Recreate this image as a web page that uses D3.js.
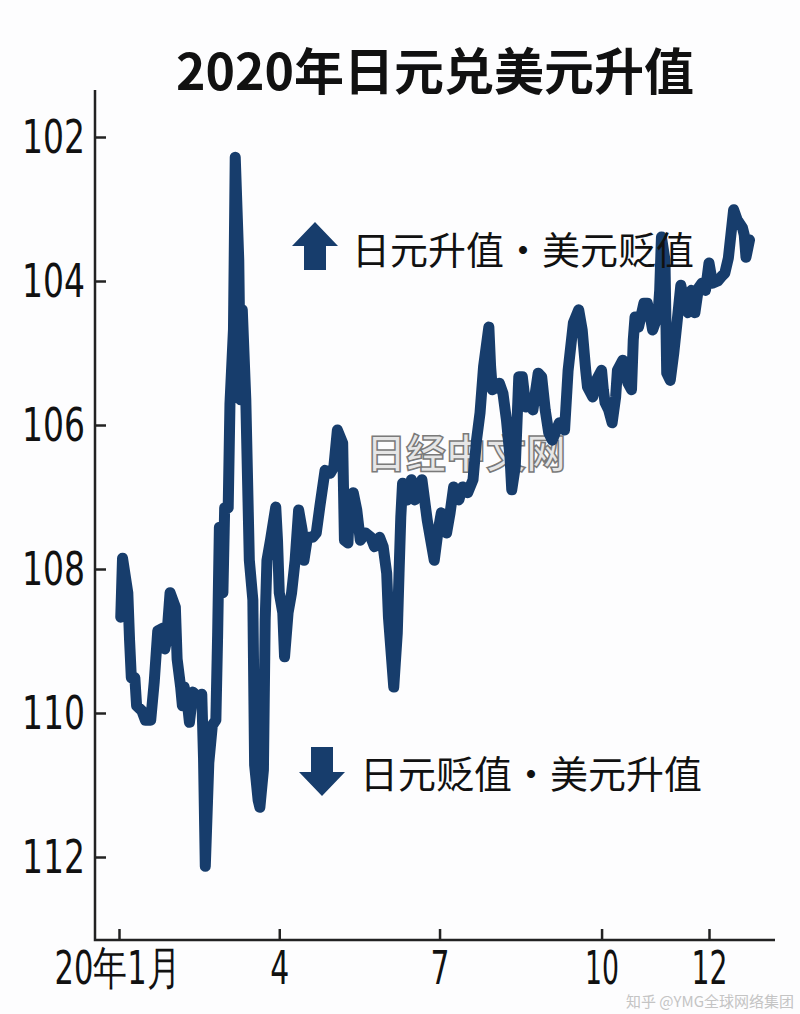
<!DOCTYPE html>
<html lang="zh">
<head>
<meta charset="utf-8">
<script src="https://cdn.jsdelivr.net/npm/d3@7/dist/d3.min.js"></script>
<style>
  body { margin: 0; background: #fdfdfe; }
  text { font-family: "Noto Sans CJK SC", "Noto Sans", sans-serif; }
  .num { font-family: "Liberation Sans Narrow", "DejaVu Sans Condensed", "Noto Sans", sans-serif; }
</style>
</head>
<body>
<div id="chart"></div>
<script>
// USD/JPY 2020
var dates = [
  "01-02","01-03","01-06","01-07","01-08","01-10","01-11","01-14","01-16","01-19",
  "01-21","01-23","01-26","01-27","01-28","01-30","02-02","02-03","02-05","02-06",
  "02-07","02-09","02-10","02-12","02-15","02-17","02-18","02-19","02-21","02-23",
  "02-25","02-26","02-27","02-29","03-01","03-03","03-04","03-06","03-07","03-09",
  "03-10","03-11","03-13","03-15","03-17","03-18","03-20","03-21","03-23","03-24",
  "03-25","03-27","03-30","03-31","04-01","04-03","04-04","04-06","04-08","04-10",
  "04-12","04-14","04-15","04-17","04-20","04-22","04-24","04-27","04-30","05-02",
  "05-04","05-07","05-08","05-10","05-11","05-13","05-15","05-17","05-20","05-23",
  "05-25","05-28","05-30","06-01","06-02","06-05","06-07","06-08","06-09","06-10",
  "06-11","06-13","06-15","06-17","06-21","06-24","06-28","06-30","07-02","07-05",
  "07-07","07-09","07-12","07-14","07-17","07-20","07-22","07-24","07-26","07-29",
  "07-30","07-31","08-03","08-04","08-06","08-08","08-10","08-11","08-13","08-15",
  "08-17","08-19","08-21","08-23","08-26","08-28","08-30","09-01","09-03","09-06",
  "09-07","09-10","09-12","09-15","09-18","09-20","09-22","09-23","09-26","09-28",
  "10-01","10-02","10-03","10-05","10-07","10-09","10-10","10-13","10-14","10-16",
  "10-18","10-19","10-20","10-22","10-25","10-27","10-29","10-30","11-02","11-03",
  "11-04","11-06","11-07","11-09","11-11","11-13","11-15","11-17","11-19","11-21",
  "11-23","11-25","11-27","11-29","12-01","12-03","12-06","12-08","12-10","12-12",
  "12-15","12-17","12-20","12-21","12-22","12-24"
]
var rates = [
  108.67,107.85,108.33,108.99,109.51,109.51,109.90,109.97,110.10,110.10,
  109.57,108.86,108.82,109.11,108.99,108.33,108.53,109.25,109.64,109.90,
  109.64,109.90,110.13,109.71,109.78,109.74,110.63,112.13,110.69,110.17,
  110.10,108.92,107.42,108.33,107.15,107.15,105.71,104.67,102.28,103.71,
  105.65,104.40,105.65,107.88,108.43,110.72,111.21,111.31,110.79,108.71,
  107.88,107.60,107.14,107.60,108.33,108.61,109.22,108.61,108.33,107.88,
  107.18,107.46,107.88,107.56,107.56,107.50,107.14,106.63,106.67,106.58,
  106.07,106.25,107.60,107.64,107.04,106.94,107.18,107.60,107.50,107.56,
  107.69,107.56,107.69,108.06,108.67,109.64,108.89,108.06,107.28,106.81,
  106.90,107.04,106.76,107.04,106.76,107.32,107.88,107.50,107.22,107.50,
  107.22,106.86,107.04,106.86,106.94,106.76,106.21,105.83,105.19,104.64,
  105.19,105.51,105.47,105.42,105.56,105.93,106.44,106.90,106.58,105.33,
  105.33,105.75,105.65,105.79,105.28,105.33,105.79,106.11,106.21,106.03,
  105.97,106.07,105.24,104.58,104.40,104.68,105.24,105.47,105.61,105.38,
  105.24,105.51,105.69,105.79,105.97,105.61,105.24,105.10,105.24,105.42,
  105.51,104.82,104.50,104.64,104.31,104.31,104.54,104.68,104.47,104.13,
  103.39,103.71,105.28,105.38,105.00,104.54,104.06,104.31,104.44,104.13,
  104.44,104.10,104.03,104.13,103.75,104.03,104.00,103.94,103.89,103.68,
  103.01,103.15,103.26,103.36,103.67,103.43
]
var yTicks = [102, 104, 106, 108, 110, 112]
var xTickDates = ["01-01", "04-01", "07-01", "10-01", "12-01"]
var xTickLabels = ["20年1月", "4", "7", "10", "12"]

var width = 800
    height = 1014
    axisX = 95
    axisY = 940

var parse = d3.timeParse("%Y-%m-%d")
var data = dates.map(function(d, i) { return {date: parse("2020-" + d), value: rates[i]} })

var svg = d3.select("#chart")
    .append("svg")
        .attr("width", width)
        .attr("height", height)
        .style("background", "#fdfdfe")

var x = d3.scaleTime()
    .domain([parse("2020-01-01"), parse("2020-12-01")])
    .range([119, 709])

// yen strength: smaller number at the top
var y = d3.scaleLinear()
    .domain([102, 112])
    .range([137, 857])

// title
svg.append("text")
    .attr("x", 435)
    .attr("y", 90)
    .attr("text-anchor", "middle")
    .style("font-size", "50px")
    .style("font-weight", "bold")
    .style("fill", "#111")
    .text("2020年日元兑美元升值")

// watermark
svg.append("text")
    .attr("x", 466)
    .attr("y", 468)
    .attr("text-anchor", "middle")
    .style("font-size", "40px")
    .style("font-weight", "bold")
    .style("fill", "#e6e6e6")
    .style("stroke", "#7a7a7a")
    .style("stroke-width", "1.5px")
    .text("日经中文网")

// the line
var line = d3.line()
    .x(function(d) { return x(d.date) })
    .y(function(d) { return y(d.value) })

svg.append("path")
    .datum(data)
    .attr("d", line)
    .attr("fill", "none")
    .attr("stroke", "#173d6c")
    .attr("stroke-width", 11)
    .attr("stroke-linejoin", "round")
    .attr("stroke-linecap", "round")

// axes
var yAxis = d3.axisLeft(y)
    .tickValues(yTicks)
    .tickSizeInner(-11)
    .tickSizeOuter(0)
    .tickPadding(10)

var gy = svg.append("g")
    .attr("transform", "translate(" + axisX + ",0)")
    .call(yAxis)
gy.select(".domain").remove()
gy.selectAll("line").attr("stroke", "#222").attr("stroke-width", 2.5)
gy.selectAll("text")
    .attr("class", "num")
    .attr("textLength", 63)
    .attr("lengthAdjust", "spacingAndGlyphs")
    .style("font-size", "47px")
    .style("fill", "#111")

var xAxis = d3.axisBottom(x)
    .tickValues(xTickDates.map(function(d) { return parse("2020-" + d) }))
    .tickFormat(function(d, i) { return xTickLabels[i] })
    .tickSizeInner(-11)
    .tickSizeOuter(0)
    .tickPadding(11)

// squeezed widths like the narrow face in the picture
var xLabelWidths = [126, 19, 19, 34, 36]

var gx = svg.append("g")
    .attr("transform", "translate(0," + axisY + ")")
    .call(xAxis)
gx.select(".domain").remove()
gx.selectAll("line").attr("stroke", "#222").attr("stroke-width", 2.5)
gx.selectAll("text")
    .attr("class", "num")
    .attr("textLength", function(d, i) { return xLabelWidths[i] })
    .attr("lengthAdjust", "spacingAndGlyphs")
    .style("font-size", "46px")
    .style("fill", "#111")
gx.selectAll("text").filter(function(d, i) { return i == 0 })
    .attr("dx", -2)

svg.append("path")
    .attr("d", "M" + axisX + ",90V" + axisY + "H775")
    .attr("fill", "none")
    .attr("stroke", "#222")
    .attr("stroke-width", 2.5)

// arrows and notes
svg.append("path")
    .attr("d", "M315,222L338,246L326,246L326,270L304,270L304,246L292,246Z")
    .attr("fill", "#173d6c")
svg.append("text")
    .attr("x", 352)
    .attr("y", 264)
    .style("font-size", "38px")
    .style("fill", "#111")
    .text("日元升值・美元贬值")

svg.append("path")
    .attr("d", "M322,796L345,772L333,772L333,747L311,747L311,772L299,772Z")
    .attr("fill", "#173d6c")
svg.append("text")
    .attr("x", 360)
    .attr("y", 788)
    .style("font-size", "38px")
    .style("fill", "#111")
    .text("日元贬值・美元升值")

svg.append("text")
    .attr("x", 794)
    .attr("y", 1007)
    .attr("text-anchor", "end")
    .style("font-size", "15px")
    .style("fill", "#c4c4c4")
    .text("知乎 @YMG全球网络集团")
</script>
</body>
</html>
